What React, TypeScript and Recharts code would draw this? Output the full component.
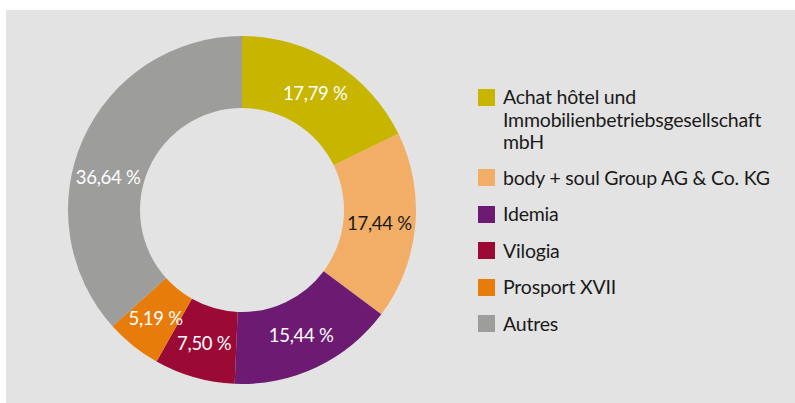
import { PieChart, Pie, Cell, Legend } from 'recharts'

const names = [
  'Achat hôtel und Immobilienbetriebsgesellschaft mbH',
  'body + soul Group AG & Co. KG',
  'Idemia',
  'Vilogia',
  'Prosport XVII',
  'Autres',
]
const legendLines = [
  ['Achat hôtel und', 'Immobilienbetriebsgesellschaft', 'mbH'],
  ['body + soul Group AG & Co. KG'],
  ['Idemia'],
  ['Vilogia'],
  ['Prosport XVII'],
  ['Autres'],
]
const shares = [17.79, 17.44, 15.44, 7.5, 5.19, 36.64]
const colors = ['#c7b500', '#f2ad67', '#6d1b72', '#9b0935', '#e77c0a', '#9d9d9b']
const labelColors = ['#fff', '#1a1a1a', '#fff', '#fff', '#fff', '#fff']
// small nudges (degrees) so labels sit where the original put them
const labelShift = [0, 0, 0, 0, 0, 10]

const data = names.map((name, i) => ({ name, value: shares[i] }))

const FONT = 'Lato, "Open Sans", sans-serif'
const RAD = Math.PI / 180

function renderLabel(props: any) {
  const { cx, cy, midAngle, innerRadius, outerRadius, index, value } = props
  const r = (innerRadius + outerRadius) / 2
  const a = midAngle + labelShift[index]
  const x = cx + r * Math.cos(-a * RAD)
  const y = cy + r * Math.sin(-a * RAD)
  return (
    <text x={x} y={y} fill={labelColors[index]} textAnchor="middle" dominantBaseline="central"
      fontSize={18.5} fontFamily={FONT} letterSpacing={-0.3}>
      {value.toFixed(2).replace('.', ',')} %
    </text>
  )
}

function LegendBox() {
  return (
    <div style={{ fontFamily: FONT, fontSize: 19.5, color: '#1a1a1a', letterSpacing: -0.2 }}>
      {legendLines.map((lines, i) => (
        <div key={i} style={{ display: 'flex', alignItems: 'flex-start', marginBottom: i === 0 ? 13 : 14 }}>
          <span style={{ width: 17, height: 17, background: colors[i], marginTop: 2.75, marginRight: 8, flexShrink: 0 }} />
          <div style={{ lineHeight: '22.5px', whiteSpace: 'nowrap' }}>
            {lines.map((l, j) => <div key={j}>{l}</div>)}
          </div>
        </div>
      ))}
    </div>
  )
}

export default function App() {
  return (
    <div style={{ position: 'absolute', left: 0, top: 0, width: 795, height: 403, background: '#fff' }}>
      <div style={{ position: 'absolute', left: 6, top: 10, width: 789, height: 393, background: '#e3e3e3' }}>
        <PieChart width={789} height={393} margin={{ top: 0, right: 0, bottom: 0, left: 0 }}>
          <Pie data={data} dataKey="value" nameKey="name" cx={236} cy={200}
            innerRadius={102} outerRadius={174} startAngle={90} endAngle={-270}
            stroke="none" label={renderLabel} labelLine={false} isAnimationActive={false}>
            {data.map((d, i) => <Cell key={d.name} fill={colors[i]} />)}
          </Pie>
          <Legend content={() => <LegendBox />} layout="vertical"
            wrapperStyle={{ position: 'absolute', left: 472, top: 76, width: 315 }} />
        </PieChart>
      </div>
    </div>
  )
}
